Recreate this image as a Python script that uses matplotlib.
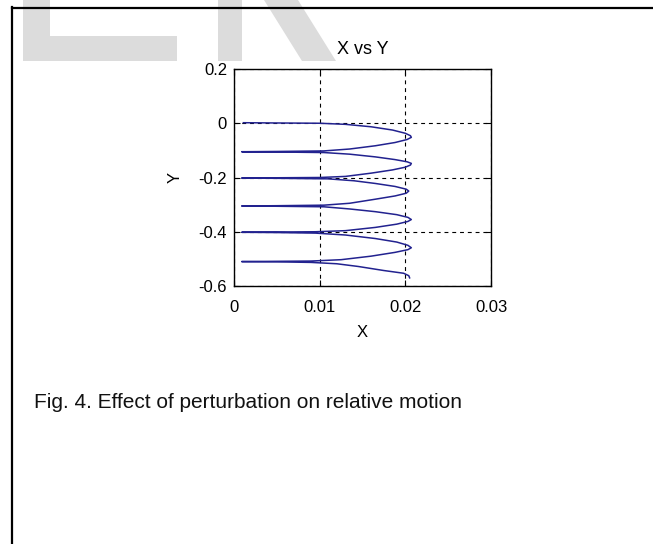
import matplotlib
matplotlib.use("Agg")
import matplotlib.pyplot as plt
from matplotlib.patches import Polygon
from matplotlib.lines import Line2D

plt.rcParams['font.family'] = ['Liberation Sans', 'DejaVu Sans']

# ---- data ----
x_ticks = [0, 0.01, 0.02, 0.03]
x_tick_labels = ["0", "0.01", "0.02", "0.03"]
y_ticks = [0.2, 0, -0.2, -0.4, -0.6]
y_tick_labels = ["0.2", "0", "-0.2", "-0.4", "-0.6"]

path_x = [
    0.0011, 0.0050, 0.0100, 0.0130, 0.0160, 0.0185, 0.0200, 0.0206, 0.0207, 0.0202, 0.0188, 0.0165, 0.0135, 0.0105, 0.0050, 0.0009,
    0.0050, 0.0105, 0.0135, 0.0165, 0.0188, 0.0202, 0.0207, 0.0206, 0.0200, 0.0185, 0.0160, 0.0130, 0.0100, 0.0050, 0.0009,
    0.0050, 0.0110, 0.0140, 0.0165, 0.0188, 0.0201, 0.0204, 0.0201, 0.0188, 0.0165, 0.0135, 0.0105, 0.0050, 0.0009,
    0.0050, 0.0105, 0.0135, 0.0165, 0.0190, 0.0203, 0.0207, 0.0203, 0.0190, 0.0165, 0.0130, 0.0095, 0.0050, 0.0009,
    0.0050, 0.0095, 0.0130, 0.0165, 0.0190, 0.0203, 0.0207, 0.0203, 0.0188, 0.0160, 0.0125, 0.0090, 0.0050, 0.0009,
    0.0050, 0.0090, 0.0120, 0.0145, 0.0175, 0.0198, 0.0204, 0.0205,
]
path_y = [
    0.002, 0.001, 0.000, -0.004, -0.013, -0.025, -0.037, -0.046, -0.052, -0.060, -0.071, -0.083, -0.095, -0.102, -0.104, -0.105,
    -0.106, -0.108, -0.114, -0.124, -0.134, -0.142, -0.148, -0.154, -0.162, -0.172, -0.184, -0.196, -0.200, -0.201, -0.202,
    -0.203, -0.205, -0.212, -0.222, -0.233, -0.243, -0.250, -0.258, -0.268, -0.280, -0.295, -0.302, -0.304, -0.305,
    -0.306, -0.308, -0.316, -0.326, -0.337, -0.347, -0.355, -0.362, -0.372, -0.384, -0.396, -0.400, -0.401, -0.402,
    -0.403, -0.405, -0.412, -0.425, -0.438, -0.450, -0.459, -0.466, -0.476, -0.490, -0.503, -0.508, -0.509, -0.510,
    -0.511, -0.513, -0.518, -0.528, -0.543, -0.553, -0.562, -0.570,
]

W, H = 653, 544
fig = plt.figure(figsize=(W / 100, H / 100), dpi=100)
fig.patch.set_facecolor('white')

# watermark (light grey letter fragments) in figure pixel coords -> fractions
def fpoly(pts, **kw):
    p = Polygon([(px / W, 1 - py / H) for px, py in pts], closed=True,
                transform=fig.transFigure, **kw)
    fig.patches.append(p)

wm = dict(facecolor='#dcdcdc', edgecolor='none', zorder=0)
fpoly([(23, 0), (50, 0), (50, 36), (177, 36), (177, 61), (23, 61)], **wm)
fpoly([(218, 0), (242, 0), (242, 61), (218, 61)], **wm)
fpoly([(264, 0), (298, 0), (336, 61), (302, 61)], **wm)

# page frame lines
fig.lines.append(Line2D([12.5 / W, 12.5 / W], [0, 1 - 7 / H], transform=fig.transFigure,
                        color='black', lw=1.6, zorder=1))
fig.lines.append(Line2D([12.5 / W, 1], [1 - 7.5 / H, 1 - 7.5 / H], transform=fig.transFigure,
                        color='black', lw=1.6, zorder=1))

ax = fig.add_axes([234 / W, 1 - 286 / H, (491 - 234) / W, (286 - 69) / H])
ax.set_facecolor('white')
ax.plot(path_x, path_y, color='#22228f', lw=1.1, zorder=3)

ax.set_xlim(0, 0.03)
ax.set_ylim(-0.6, 0.2)
ax.set_xticks(x_ticks)
ax.set_xticklabels(x_tick_labels)
ax.set_yticks(y_ticks)
ax.set_yticklabels(y_tick_labels)
ax.tick_params(direction='in', length=4, width=0.8, top=True, right=True,
               labelsize=12, colors='black')
ax.tick_params(axis='x', pad=10)
ax.tick_params(axis='y', pad=5)
ax.grid(True, color='black', linestyle=(0, (3.5, 3.5)), lw=0.8)
ax.set_axisbelow(True)
for s in ax.spines.values():
    s.set_linewidth(1.0)

ax.set_title("X vs Y", fontsize=13, pad=11)
ax.set_xlabel("X", fontsize=12, labelpad=7)
ax.set_ylabel("Y", fontsize=12, labelpad=11)

fig.text(34 / W, 1 - 402 / H, "Fig. 4. Effect of perturbation on relative motion",
         fontsize=15, ha='left', va='center', color='#111111')

fig.savefig("out.png", dpi=100)
